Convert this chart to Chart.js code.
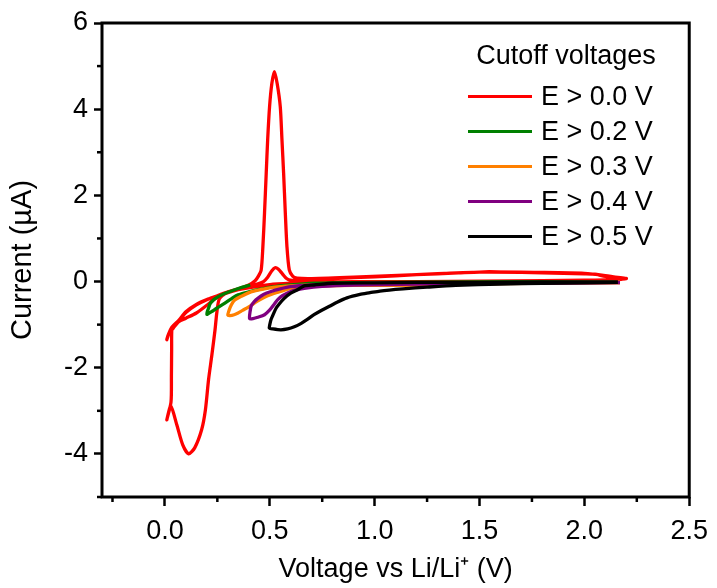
<!DOCTYPE html>
<html>
<head>
<title>Cutoff voltages CV</title>
<style>
  body { margin: 0; background: #fff; }
  .chart-container { position: relative; width: 717px; height: 588px; }
  #legend { position: absolute; left: 468px; top: 31px; width: 210px;
            font-family: "Liberation Sans", Arial, sans-serif; font-size: 27px; color: #000; }
  #legend .ttl { text-align: center; width: 196px; height: 48px; line-height: 48px; }
  #legend .row { height: 35px; line-height: 35px; display: flex; align-items: center; }
  #legend .swatch { width: 64px; height: 3px; margin-right: 9px; }
</style>
</head>
<body>
<div class="chart-container">
<canvas id="mycanvas" width="717" height="588"></canvas>
<div id="legend"></div>
</div>

<script src="https://cdn.jsdelivr.net/npm/chart.js@4.4.1/dist/chart.umd.min.js"></script>
<script>
// tick values / labels
var xMajor = [0, 0.5, 1.0, 1.5, 2.0, 2.5];
var xLabels = ["0.0", "0.5", "1.0", "1.5", "2.0", "2.5"];
var xMinor = [-0.25, 0.25, 0.75, 1.25, 1.75, 2.25];
var yMajor = [-4, -2, 0, 2, 4, 6];
var yLabels = ["-4", "-2", "0", "2", "4", "6"];
var yMinor = [-5, -3, -1, 1, 3, 5];

var seriesNames = ["E > 0.0 V", "E > 0.2 V", "E > 0.3 V", "E > 0.4 V", "E > 0.5 V"];
var seriesColors = ["#ff0000", "#008000", "#ff8000", "#800080", "#000000"];

// E > 0.0 V (two cycles)
var redV = [2.20, 2.10, 2.00, 1.80, 1.50, 1.20, 1.00, 0.80, 0.70, 0.60, 0.50, 0.42, 0.35, 0.30, 0.25, 0.20, 0.15, 0.10, 0.066, 0.04, 0.02, 0.009,
  0.015, 0.033, 0.066, 0.10, 0.15, 0.20, 0.25, 0.30, 0.35, 0.40, 0.44, 0.47, 0.49, 0.51, 0.525, 0.54, 0.56, 0.58, 0.60, 0.65, 0.70, 0.80, 1.00, 1.20, 1.40, 1.50, 1.60, 1.80, 2.00, 2.05, 2.10, 2.20,
  2.00, 1.50, 1.00, 0.70, 0.60, 0.50, 0.42, 0.35, 0.30, 0.25, 0.20, 0.15, 0.10, 0.066, 0.04, 0.033, 0.032, 0.031, 0.029, 0.009,
  0.028, 0.057, 0.085, 0.113, 0.142, 0.175, 0.193, 0.208, 0.224, 0.239, 0.248, 0.26, 0.30, 0.35, 0.40, 0.43, 0.445, 0.459, 0.467, 0.475, 0.483, 0.49, 0.499, 0.51, 0.522, 0.535, 0.55, 0.558, 0.566, 0.574, 0.582, 0.593, 0.61, 0.63, 0.70, 0.90, 1.20, 1.50, 1.80, 2.00, 2.10, 2.20];
var redI = [0.06, 0.04, 0.03, 0.02, 0.01, 0.00, 0.00, -0.01, -0.02, -0.04, -0.07, -0.12, -0.19, -0.26, -0.36, -0.55, -0.73, -0.85, -0.93, -1.08, -1.20, -1.35,
  -1.25, -1.06, -0.90, -0.70, -0.53, -0.42, -0.33, -0.24, -0.17, -0.11, -0.06, 0.00, 0.10, 0.25, 0.32, 0.29, 0.18, 0.07, 0.03, 0.04, 0.05, 0.07, 0.11, 0.16, 0.20, 0.22, 0.22, 0.20, 0.18, 0.17, 0.12, 0.07,
  0.02, 0.00, -0.01, -0.03, -0.05, -0.08, -0.13, -0.19, -0.25, -0.33, -0.42, -0.54, -0.72, -0.92, -1.02, -1.10, -1.60, -2.20, -2.80, -3.21,
  -2.89, -3.33, -3.79, -4.00, -3.86, -3.44, -2.98, -2.28, -1.70, -1.12, -0.70, -0.40, -0.25, -0.17, -0.08, 0.02, 0.12, 0.27, 0.80, 1.60, 2.51, 3.30, 4.06, 4.60, 4.87, 4.60, 4.06, 3.30, 2.51, 1.60, 0.80, 0.27, 0.12, 0.08, 0.07, 0.10, 0.16, 0.22, 0.21, 0.19, 0.14, 0.07];

// E > 0.2 V
var greenV = [0.407, 0.37, 0.333, 0.30, 0.27, 0.25, 0.231, 0.215, 0.208, 0.202, 0.20,
  0.206, 0.222, 0.247, 0.286, 0.32, 0.349, 0.40, 0.443, 0.506, 0.60, 0.711, 0.80, 1.00, 1.50, 2.15];
var greenI = [-0.08, -0.13, -0.19, -0.25, -0.31, -0.36, -0.43, -0.52, -0.62, -0.70, -0.76,
  -0.75, -0.70, -0.62, -0.50, -0.39, -0.31, -0.24, -0.19, -0.13, -0.08, -0.04, -0.03, -0.02, -0.01, 0.00];

// E > 0.3 V
var orangeV = [2.17, 1.50, 1.00, 0.80, 0.70, 0.60, 0.522, 0.443, 0.41, 0.365, 0.333, 0.317, 0.305, 0.30,
  0.31, 0.33, 0.349, 0.37, 0.396, 0.443, 0.49, 0.538, 0.60, 0.65, 0.75, 0.90, 1.26, 1.60, 2.17];
var orangeI = [-0.01, -0.03, -0.04, -0.06, -0.08, -0.10, -0.13, -0.20, -0.24, -0.34, -0.43, -0.54, -0.68, -0.78,
  -0.79, -0.77, -0.73, -0.67, -0.60, -0.45, -0.33, -0.25, -0.16, -0.12, -0.10, -0.09, -0.08, -0.05, -0.03];

// E > 0.4 V
var purpleV = [2.17, 1.50, 1.00, 0.80, 0.70, 0.60, 0.55, 0.506, 0.47, 0.443, 0.425, 0.412, 0.406, 0.404,
  0.42, 0.443, 0.475, 0.50, 0.522, 0.538, 0.56, 0.60, 0.664, 0.75, 0.90, 1.20, 1.60, 2.17];
var purpleI = [-0.02, -0.03, -0.04, -0.06, -0.08, -0.12, -0.17, -0.23, -0.30, -0.39, -0.47, -0.56, -0.70, -0.86,
  -0.86, -0.83, -0.77, -0.66, -0.52, -0.42, -0.33, -0.23, -0.16, -0.11, -0.08, -0.06, -0.04, -0.03];

// E > 0.5 V
var blackV = [2.16, 1.80, 1.50, 1.20, 1.00, 0.80, 0.711, 0.664, 0.632, 0.60, 0.569, 0.545, 0.53, 0.515, 0.506, 0.50, 0.498,
  0.515, 0.553, 0.585, 0.617, 0.65, 0.679, 0.711, 0.75, 0.79, 0.821, 0.868, 0.93, 0.978, 1.025, 1.135, 1.25, 1.387, 1.60, 1.80, 2.00, 2.16];
var blackI = [-0.01, -0.01, -0.02, -0.02, -0.03, -0.04, -0.08, -0.10, -0.19, -0.27, -0.39, -0.52, -0.62, -0.78, -0.88, -1.00, -1.08,
  -1.10, -1.12, -1.10, -1.05, -0.97, -0.88, -0.77, -0.66, -0.56, -0.48, -0.38, -0.30, -0.26, -0.22, -0.17, -0.13, -0.09, -0.06, -0.04, -0.03, -0.02];

var allV = [redV, greenV, orangeV, purpleV, blackV];
var allI = [redI, greenI, orangeI, purpleI, blackI];

function pts(vs, is) {
  var out = [];
  for (var i = 0; i < vs.length; i++) out.push({x: vs[i], y: is[i]});
  return out;
}

var datasets = [];
for (var k = 0; k < allV.length; k++) {
  datasets.push({
    label: seriesNames[k],
    data: pts(allV[k], allI[k]),
    showLine: true,
    borderColor: seriesColors[k],
    backgroundColor: seriesColors[k],
    borderWidth: 3.3,
    pointRadius: 0,
    tension: 0.25,
    fill: false,
    order: allV.length - 1 - k   // black drawn on top
  });
}

var FONT = "'Liberation Sans', Arial, sans-serif";

// frame + minor ticks
var framePlugin = {
  id: 'frame',
  afterDraw: function(chart) {
    var ctx = chart.ctx, a = chart.chartArea;
    var xs = chart.scales.x, ys = chart.scales.y;
    ctx.save();
    ctx.strokeStyle = '#000';
    ctx.lineWidth = 2.5;
    xMinor.forEach(function(v) {
      var px = xs.getPixelForValue(v);
      ctx.beginPath(); ctx.moveTo(px, a.bottom); ctx.lineTo(px, a.bottom + 5); ctx.stroke();
    });
    yMinor.forEach(function(v) {
      var py = ys.getPixelForValue(v);
      ctx.beginPath(); ctx.moveTo(a.left, py); ctx.lineTo(a.left - 5, py); ctx.stroke();
    });
    ctx.lineWidth = 3;
    ctx.strokeRect(a.left, a.top, a.right - a.left, a.bottom - a.top);
    ctx.restore();
  }
};

var ctx = document.getElementById('mycanvas');
var chart = new Chart(ctx, {
  type: 'scatter',
  data: { datasets: datasets },
  plugins: [framePlugin],
  options: {
    responsive: false,
    animation: false,
    layout: { padding: { left: 0, right: 20, top: 23, bottom: 0 } },
    plugins: { legend: { display: false }, tooltip: { enabled: false } },
    scales: {
      x: {
        type: 'linear', min: -0.3, max: 2.5,
        afterFit: function(s) { s.height = 91; },
        afterBuildTicks: function(s) { s.ticks = xMajor.map(function(v) { return {value: v}; }); },
        ticks: {
          color: '#000', padding: 9, maxRotation: 0,
          font: { family: FONT, size: 27 },
          callback: function(v) { var i = xMajor.indexOf(v); return i >= 0 ? xLabels[i] : ''; }
        },
        grid: { drawOnChartArea: false, drawTicks: true, tickLength: 9, tickWidth: 2.5, tickColor: '#000' },
        border: { display: false },
        title: { display: true, text: 'Voltage vs Li/Li\u207A (V)', color: '#000',
                 font: { family: FONT, size: 27 }, padding: { top: 0, bottom: 2 } }
      },
      y: {
        type: 'linear', min: -5, max: 6,
        afterFit: function(s) { s.width = 102; },
        afterBuildTicks: function(s) { s.ticks = yMajor.map(function(v) { return {value: v}; }); },
        ticks: {
          color: '#000', padding: 6,
          font: { family: FONT, size: 27 },
          callback: function(v) { var i = yMajor.indexOf(v); return i >= 0 ? yLabels[i] : ''; }
        },
        grid: { drawOnChartArea: false, drawTicks: true, tickLength: 8, tickWidth: 2.5, tickColor: '#000' },
        border: { display: false },
        title: { display: true, text: 'Current (\u00B5A)', color: '#000',
                 font: { family: FONT, size: 29 }, padding: { top: 6, bottom: 0 } }
      }
    }
  }
});

// legend inside the plot
var lg = document.getElementById('legend');
var html = '<div class="ttl">Cutoff voltages</div>';
for (var j = 0; j < seriesNames.length; j++) {
  html += '<div class="row"><span class="swatch" style="background:' + seriesColors[j] + '"></span>' +
          seriesNames[j] + '</div>';
}
lg.innerHTML = html;
</script>
</body>
</html>
